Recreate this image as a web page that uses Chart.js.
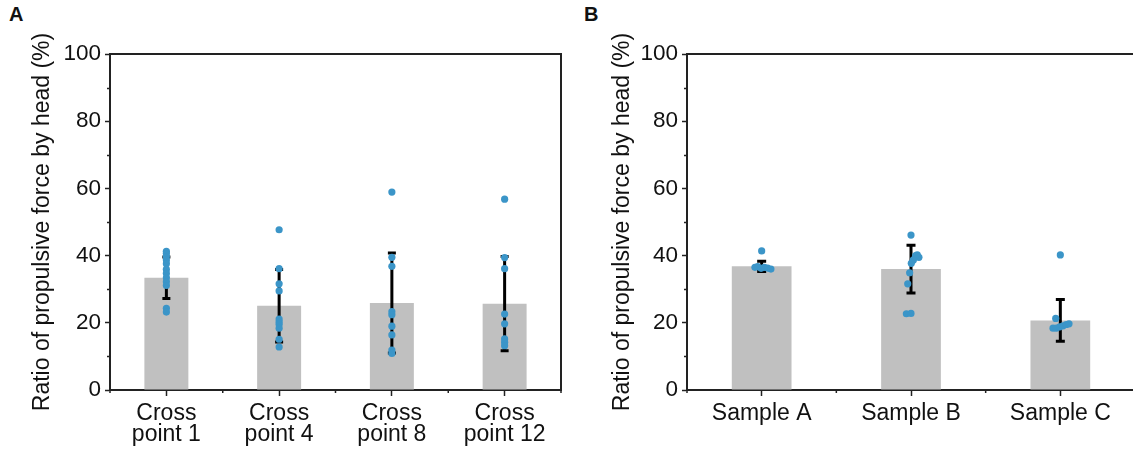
<!DOCTYPE html>
<html>
<head>
<meta charset="utf-8">
<script src="https://cdn.jsdelivr.net/npm/chart.js@4"></script>
<style>
  html, body { margin: 0; padding: 0; background: #fff; overflow: hidden; }
  body { width: 1133px; height: 454px; position: relative; font-family: "Liberation Sans", Arial, sans-serif; }
  .panel { position: absolute; top: 0; width: 575px; height: 454px; }
  #panelA { left: 0; }
  #panelB { left: 575px; }
  .tag { position: absolute; top: 3px; font-weight: bold; font-size: 20px; color: #111; }
</style>
</head>
<body>
<div class="tag" style="left:9px">A</div>
<div class="tag" style="left:584px">B</div>
<div class="panel" id="panelA"><canvas id="chartA"></canvas></div>
<div class="panel" id="panelB"><canvas id="chartB"></canvas></div>
<script>
const Y_TITLE = "Ratio of propulsive force by head (%)";

// panel A
const labelsA = [["Cross", "point 1"], ["Cross", "point 4"], ["Cross", "point 8"], ["Cross", "point 12"]];
const meansA = [33.4, 25.1, 25.9, 25.7];
const sdA = [6.2, 10.8, 14.9, 14.0];
const pointsA = [
  [41.3, 40.6, 39.7, 38.7, 37.6, 35.9, 34.7, 33.4, 32.2, 31.1, 24.3, 23.2],
  [47.7, 36.1, 31.6, 29.5, 21.1, 20.3, 19.6, 18.4, 15.1, 12.8],
  [58.9, 39.5, 36.8, 23.3, 22.4, 19.0, 16.4, 11.9, 10.9],
  [56.8, 39.4, 36.1, 22.6, 19.7, 15.2, 14.2, 13.2]
];
const jitterA = [
  [0, 0, 0, 0, 0, 0, 0, 0, 0, 0, 0, 0],
  [0, 0, 0, 0, 0, 0, 0, 0, 0, 0],
  [0, 0, 0, 0, 0, 0, 0, 0, 0],
  [0, 0, 0, 0, 0, 0, 0, 0]
];

// panel B
const labelsB = ["Sample A", "Sample B", "Sample C"];
const meansB = [36.8, 36.0, 20.7];
const sdB = [1.5, 7.1, 6.2];
const pointsB = [
  [41.4, 36.5, 36.7, 36.2, 36.5, 36.3, 36.0],
  [46.1, 40.2, 39.5, 40.0, 38.7, 37.7, 34.9, 31.6, 22.7, 22.8],
  [40.2, 21.3, 18.4, 18.4, 18.8, 19.1, 19.5, 19.7]
];
const jitterB = [
  [0, -0.045, -0.027, -0.004, 0.018, 0.040, 0.062],
  [0, 0.042, 0.053, 0.031, 0.016, 0.002, -0.009, -0.022, -0.031, 0],
  [0, -0.031, -0.049, -0.027, -0.004, 0.018, 0.040, 0.058]
];

Chart.defaults.font.family = "'Liberation Sans', Arial, sans-serif";
Chart.defaults.font.size = 22;
Chart.defaults.color = "#111";

const AXIS = "#222";
const DOT = "#3b95c8";
const BAR = "#c0c0c0";

function makePanel(id, labels, means, sd, points, jitter, opts) {
  const n = labels.length;
  const dots = [];
  points.forEach((vals, i) => vals.forEach((v, k) => dots.push({ x: i + jitter[i][k], y: v })));

  // error bars, minor ticks and the box round the plot
  const extras = {
    id: "extras" + id,
    afterDatasetDraw(chart, args) {
      if (args.index !== 0) return;
      const { ctx, scales: { x, y } } = chart;
      ctx.save();
      ctx.strokeStyle = "#000";
      ctx.lineWidth = 3;
      means.forEach((m, i) => {
        const px = x.getPixelForValue(i);
        const top = y.getPixelForValue(m + sd[i]);
        const bot = y.getPixelForValue(m - sd[i]);
        ctx.beginPath();
        ctx.moveTo(px, top); ctx.lineTo(px, bot);
        ctx.moveTo(px - opts.cap, top); ctx.lineTo(px + opts.cap, top);
        ctx.moveTo(px - opts.cap, bot); ctx.lineTo(px + opts.cap, bot);
        ctx.stroke();
      });
      ctx.restore();
    },
    afterDraw(chart) {
      const { ctx, chartArea: a, scales: { x, y } } = chart;
      ctx.save();
      ctx.strokeStyle = AXIS;
      ctx.lineWidth = 1.5;
      ctx.beginPath();
      for (let v = 10; v < 100; v += 20) {
        const py = Math.round(y.getPixelForValue(v)) + 0.5;
        ctx.moveTo(a.left - 3, py); ctx.lineTo(a.left, py);
      }
      for (let i = 0; i <= n; i++) {
        const px = x.getPixelForValue(i - 0.5);
        ctx.moveTo(px, a.bottom); ctx.lineTo(px, a.bottom + 3);
      }
      ctx.stroke();
      ctx.lineWidth = 2;
      ctx.beginPath();
      ctx.moveTo(a.left, a.top); ctx.lineTo(a.right, a.top); ctx.lineTo(a.right, a.bottom);
      ctx.stroke();
      ctx.restore();
    }
  };

  return new Chart(document.getElementById(id), {
    type: "bar",
    data: {
      labels: labels,
      datasets: [
        {
          data: means,
          backgroundColor: BAR,
          barPercentage: opts.bar,
          categoryPercentage: 1,
          grouped: false,
          order: 1
        },
        {
          type: "scatter",
          data: dots,
          xAxisID: "xj",
          backgroundColor: DOT,
          borderWidth: 0,
          pointRadius: 3.6,
          order: 0
        }
      ]
    },
    options: {
      responsive: true,
      maintainAspectRatio: false,
      animation: false,
      events: [],
      layout: { padding: { left: 0, right: opts.right, top: 54, bottom: 0 } },
      plugins: { legend: { display: false }, tooltip: { enabled: false } },
      scales: {
        x: {
          type: "category",
          offset: true,
          grid: { offset: false, drawOnChartArea: false, tickLength: 6, tickWidth: 1.5, tickColor: AXIS },
          border: { color: AXIS, width: 2 },
          ticks: { padding: 8, maxRotation: 0, autoSkip: false, font: { size: 23, lineHeight: 0.88 } },
          afterFit(s) { s.height = 64; }
        },
        xj: {
          type: "linear",
          display: false,
          offset: false,
          grid: { offset: false },
          min: -0.5,
          max: n - 0.5
        },
        y: {
          min: 0,
          max: 100,
          ticks: { stepSize: 20, padding: 4, font: { size: 22.5 } },
          grid: { drawOnChartArea: false, tickLength: 5, tickWidth: 1.5, tickColor: AXIS },
          border: { color: AXIS, width: 2 },
          title: { display: true, text: Y_TITLE, font: { size: 23 }, padding: { top: opts.titlePad, bottom: 0 } },
          afterFit(s) { s.width = opts.axisW; }
        }
      }
    },
    plugins: [extras]
  });
}

makePanel("chartA", labelsA, meansA, sdA, pointsA, jitterA, { bar: 0.39, cap: 4, right: 14, axisW: 110, titlePad: 29 });
makePanel("chartB", labelsB, meansB, sdB, pointsB, jitterB, { bar: 0.4, cap: 4.5, right: 15, axisW: 112, titlePad: 34 });
</script>
</body>
</html>
